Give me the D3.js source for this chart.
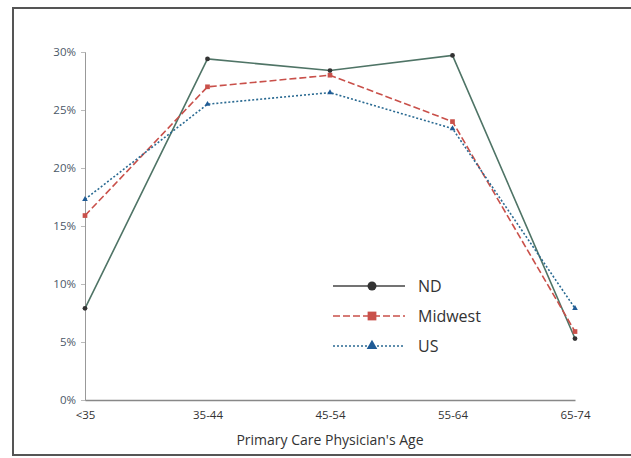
<!DOCTYPE html>
<html><head><meta charset="utf-8">
<script src="https://cdn.jsdelivr.net/npm/d3@7"></script>
<style>body{margin:0;background:#fff;}svg{display:block;}</style>
</head><body>
<script>
const categories = ["<35", "35-44", "45-54", "55-64", "65-74"];
const ndValues = [7.9, 29.4, 28.4, 29.7, 5.3];
const midwestValues = [15.9, 27.0, 28.0, 24.0, 5.9];
const usValues = [17.3, 25.5, 26.5, 23.4, 7.9];
const yTicks = [0, 5, 10, 15, 20, 25, 30];
const seriesNames = ["ND", "Midwest", "US"];

const W = 631, H = 458;
const svg = d3.select("body").append("svg").attr("width", W).attr("height", H);

svg.append("rect").attr("x", 13).attr("y", 8).attr("width", 640).attr("height", 447)
  .attr("fill", "#fff").attr("stroke", "#555").attr("stroke-width", 2);

const x = d3.scalePoint().domain(categories).range([85, 575]);
const y = d3.scaleLinear().domain([0, 30]).range([400, 52]);

// axes
const yAxis = svg.append("g").attr("transform", "translate(85,0)")
  .call(d3.axisLeft(y).tickValues(yTicks).tickFormat(d => d + "%").tickSize(4));
yAxis.select(".domain").attr("stroke", "#999");
yAxis.selectAll(".tick line").attr("stroke", "#bbb");
yAxis.selectAll(".tick text").attr("x", -9).attr("fill", "#4a5868")
  .style("font-family", "'Open Sans', sans-serif").style("font-size", "11.5px");

const xAxis = svg.append("g").attr("transform", "translate(0,400)")
  .call(d3.axisBottom(x).tickSize(0).tickSizeOuter(0));
xAxis.select(".domain").attr("stroke", "#888").attr("stroke-width", 1.5);
xAxis.selectAll(".tick text").attr("y", 11).attr("fill", "#333")
  .style("font-family", "'Open Sans', sans-serif").style("font-size", "11.5px");

svg.append("text").attr("x", 330).attr("y", 445).attr("text-anchor", "middle")
  .attr("fill", "#333").style("font-family", "'Open Sans', sans-serif").style("font-size", "14px")
  .text("Primary Care Physician's Age");

const series = [
  {name: seriesNames[0], values: ndValues, color: "#4f7466", marker: "#333", dash: null, sym: d3.symbolCircle, size: 18},
  {name: seriesNames[1], values: midwestValues, color: "#c9504a", marker: "#c9504a", dash: "7,3", sym: d3.symbolSquare, size: 22},
  {name: seriesNames[2], values: usValues, color: "#2a6a92", marker: "#1f5b96", dash: "2,2", sym: d3.symbolTriangle, size: 14}
];

const line = d3.line().x((d, i) => x(categories[i])).y(d => y(d));

series.forEach(s => {
  svg.append("path").datum(s.values).attr("d", line).attr("fill", "none")
    .attr("stroke", s.color).attr("stroke-width", 1.6).attr("stroke-dasharray", s.dash);
  svg.selectAll(null).data(s.values).enter().append("path")
    .attr("transform", (d, i) => `translate(${x(categories[i])},${y(d)})`)
    .attr("d", d3.symbol().type(s.sym).size(s.size)).attr("fill", s.marker);
});

// legend
const leg = svg.append("g");
series.forEach((s, i) => {
  const ly = 286 + i * 30;
  leg.append("line").attr("x1", 333).attr("x2", 405).attr("y1", ly).attr("y2", ly)
    .attr("stroke", s.name === "ND" ? "#444" : s.color).attr("stroke-width", 1.4).attr("stroke-dasharray", s.dash);
  leg.append("path").attr("transform", `translate(372,${ly})`)
    .attr("d", d3.symbol().type(s.sym).size(s.size * 3.5)).attr("fill", s.marker);
  leg.append("text").attr("x", 418).attr("y", ly + 6).attr("fill", "#333")
    .style("font-family", "'Open Sans', sans-serif").style("font-size", "16px").text(s.name);
});
</script>
</body></html>
